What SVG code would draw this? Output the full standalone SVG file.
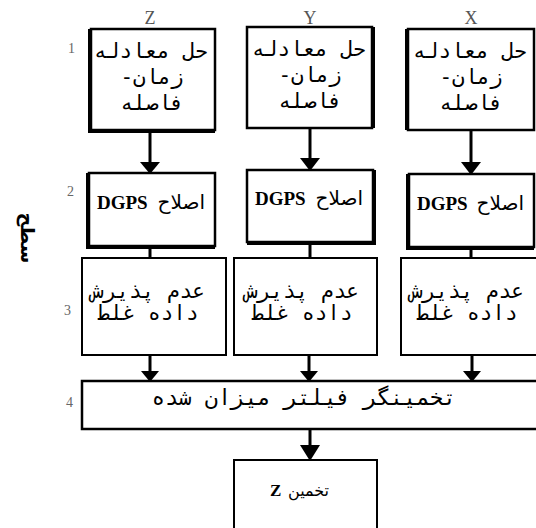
<svg xmlns="http://www.w3.org/2000/svg" width="536" height="528" viewBox="0 0 536 528">
<style>
  .box{fill:#fff;stroke:#000;stroke-width:2.5}
  .thin{fill:#fff;stroke:#000;stroke-width:2}
  .edge{stroke:#000;stroke-width:2;fill:none}
  .wire{stroke:#000;stroke-width:3;fill:none}
  .head{fill:#000}
  .mono{font-family:"DejaVu Sans Mono",monospace;font-size:21px;fill:#000;text-anchor:middle;direction:rtl;unicode-bidi:embed}
  .naskh{font-family:"DejaVu Sans",sans-serif;font-size:20px;fill:#000}
  .lat{font-family:"Liberation Serif",serif;font-weight:bold;font-size:19px;fill:#000}
  .axis{font-family:"Liberation Serif",serif;font-size:18px;fill:#555;text-anchor:middle}
  .num{font-family:"Liberation Serif",serif;font-size:14px;fill:#666}
  .side{font-family:"DejaVu Sans",sans-serif;font-weight:bold;font-size:19px;fill:#000;text-anchor:middle}
</style>

<!-- axis labels -->
<text class="axis" x="150" y="24">Z</text>
<text class="axis" x="310" y="24">Y</text>
<text class="axis" x="471" y="24">X</text>

<!-- level numbers -->
<text class="num" x="68" y="53">1</text>
<text class="num" x="67" y="196">2</text>
<text class="num" x="64" y="315">3</text>
<text class="num" x="66" y="407">4</text>
<text class="side" transform="translate(21,238) rotate(90)">سطح</text>

<!-- connectors -->
<g id="connectors">
  <line class="wire" x1="150" y1="130" x2="150" y2="164"/>
  <polygon class="head" points="140,162 160,162 150,174"/>
  <line class="wire" x1="310" y1="128" x2="310" y2="160"/>
  <polygon class="head" points="300,158 320,158 310,171"/>
  <line class="wire" x1="471" y1="130" x2="471" y2="164"/>
  <polygon class="head" points="461,162 481,162 471,175"/>

  <line class="wire" x1="150" y1="246" x2="150" y2="258"/>
  <line class="wire" x1="310" y1="244" x2="310" y2="258"/>
  <line class="wire" x1="471" y1="247" x2="471" y2="258"/>

  <line class="wire" x1="150" y1="355" x2="150" y2="373"/>
  <polygon class="head" points="141,371 159,371 150,382"/>
  <line class="wire" x1="309" y1="355" x2="309" y2="373"/>
  <polygon class="head" points="300,371 318,371 309,382"/>
  <line class="wire" x1="472" y1="355" x2="472" y2="373"/>
  <polygon class="head" points="463,371 481,371 472,382"/>

  <line class="wire" x1="310" y1="429" x2="310" y2="447"/>
  <polygon class="head" points="300,445 320,445 310,461"/>
</g>

<!-- level 1 -->
<g id="solve-z">
  <rect class="box" x="91" y="29" width="124" height="101"/>
  <path class="edge" d="M89,29 V132 H215"/>
  <text class="mono" x="151" y="58">حل معادله</text>
  <text class="mono" x="152" y="84">زمان-</text>
  <text class="mono" x="152" y="110">فاصله</text>
</g>
<g id="solve-y">
  <rect class="box" x="247" y="27" width="125" height="101"/>
  <path class="edge" d="M374,27 V128"/>
  <text class="mono" x="309" y="56">حل معادله</text>
  <text class="mono" x="310" y="82">زمان-</text>
  <text class="mono" x="310" y="108">فاصله</text>
</g>
<g id="solve-x">
  <rect class="box" x="408" y="29" width="126" height="101"/>
  <path class="edge" d="M406,29 V130"/>
  <text class="mono" x="470" y="58">حل معادله</text>
  <text class="mono" x="471" y="84">زمان-</text>
  <text class="mono" x="471" y="110">فاصله</text>
</g>

<!-- level 2 -->
<g id="dgps-z">
  <rect class="box" x="89" y="173" width="126" height="73"/>
  <path class="edge" d="M87,173 V248 H215"/>
  <text class="lat" x="97" y="209">DGPS</text>
  <text class="naskh" x="205" y="209" text-anchor="end">اصلاح</text>
</g>
<g id="dgps-y">
  <rect class="box" x="247" y="170" width="126" height="72"/>
  <path class="edge" d="M375,170 V244 H247"/>
  <text class="lat" x="255" y="205">DGPS</text>
  <text class="naskh" x="363" y="205" text-anchor="end">اصلاح</text>
</g>
<g id="dgps-x">
  <rect class="box" x="409" y="174" width="125" height="73"/>
  <path class="edge" d="M407,174 V249 H534"/>
  <text class="lat" x="417" y="210">DGPS</text>
  <text class="naskh" x="524" y="210" text-anchor="end">اصلاح</text>
</g>

<!-- level 3 -->
<g id="reject-z">
  <rect class="thin" x="82" y="258" width="144" height="97"/>
  <text class="mono" x="148" y="298">عدم پذیرش</text>
  <text class="mono" x="148" y="320">داده غلط</text>
</g>
<g id="reject-y">
  <rect class="thin" x="234" y="258" width="143" height="97"/>
  <text class="mono" x="302" y="298">عدم پذیرش</text>
  <text class="mono" x="302" y="320">داده غلط</text>
</g>
<g id="reject-x">
  <rect class="thin" x="401" y="258" width="145" height="97"/>
  <text class="mono" x="467" y="298">عدم پذیرش</text>
  <text class="mono" x="467" y="320">داده غلط</text>
</g>

<!-- level 4 -->
<g id="filter">
  <rect class="box" x="82" y="381" width="470" height="48"/>
  <text class="mono" x="304" y="405" style="font-size:22px">تخمینگر فیلتر میزان شده</text>
</g>

<!-- output -->
<g id="estimate">
  <rect class="thin" x="234" y="460" width="143" height="80"/>
  <text class="lat" x="270" y="496" style="font-size:17px">Z</text>
  <text class="naskh" x="329" y="496" text-anchor="end" style="font-size:16px">تخمین</text>
</g>
</svg>
